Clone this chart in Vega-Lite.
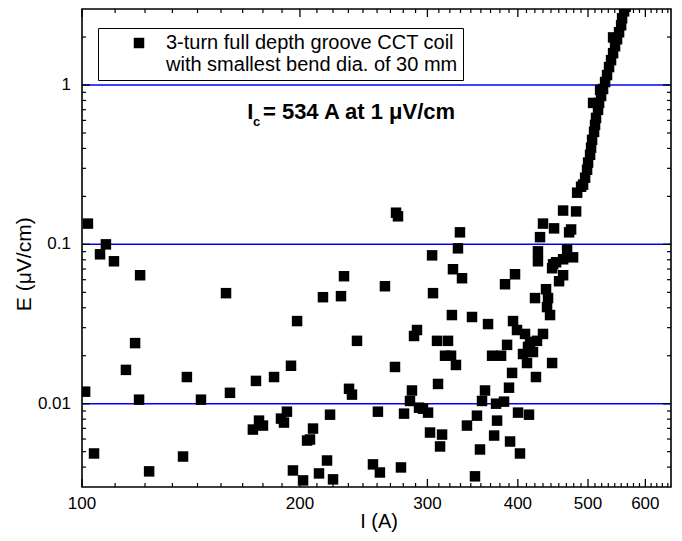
{
  "$schema": "https://vega.github.io/schema/vega-lite/v6.json",
  "width": 589,
  "height": 478,
  "autosize": "none",
  "padding": {"left": 82, "top": 9, "right": 11, "bottom": 54},
  "background": "white",
  "config": {
    "view": {"stroke": "black", "strokeWidth": 1.6}
  },
  "datasets": {
    "lines": [{"E": 0.01}, {"E": 0.1}, {"E": 1}],
    "xmaj": [{"v": 100}, {"v": 200}, {"v": 300}, {"v": 400}, {"v": 500}, {"v": 600}],
    "xmin": [{"v": 111.1}, {"v": 122.2}, {"v": 133.3}, {"v": 144.4}, {"v": 155.6}, {"v": 166.7}, {"v": 177.8}, {"v": 188.9},
             {"v": 211.1}, {"v": 222.2}, {"v": 233.3}, {"v": 244.4}, {"v": 255.6}, {"v": 266.7}, {"v": 277.8}, {"v": 288.9},
             {"v": 311.1}, {"v": 322.2}, {"v": 333.3}, {"v": 344.4}, {"v": 355.6}, {"v": 366.7}, {"v": 377.8}, {"v": 388.9},
             {"v": 411.1}, {"v": 422.2}, {"v": 433.3}, {"v": 444.4}, {"v": 455.6}, {"v": 466.7}, {"v": 477.8}, {"v": 488.9},
             {"v": 511.1}, {"v": 522.2}, {"v": 533.3}, {"v": 544.4}, {"v": 555.6}, {"v": 566.7}, {"v": 577.8}, {"v": 588.9},
             {"v": 611.1}, {"v": 622.2}, {"v": 633.3}, {"v": 644.4}],
    "ymaj": [{"v": 0.01}, {"v": 0.1}, {"v": 1}],
    "ymin": [{"v": 0.004}, {"v": 0.005}, {"v": 0.006}, {"v": 0.007}, {"v": 0.008}, {"v": 0.009},
             {"v": 0.02}, {"v": 0.03}, {"v": 0.04}, {"v": 0.05}, {"v": 0.06}, {"v": 0.07}, {"v": 0.08}, {"v": 0.09},
             {"v": 0.2}, {"v": 0.3}, {"v": 0.4}, {"v": 0.5}, {"v": 0.6}, {"v": 0.7}, {"v": 0.8}, {"v": 0.9}, {"v": 2}],
    "pts": [
      {"I":101.9,"E":0.135},{"I":107.9,"E":0.1},{"I":105.9,"E":0.0866},{"I":110.7,"E":0.0783},{"I":120.3,"E":0.064},
      {"I":158.1,"E":0.0494},{"I":118.4,"E":0.024},{"I":115.0,"E":0.0163},{"I":101.0,"E":0.0119},{"I":119.9,"E":0.0106},
      {"I":139.6,"E":0.0147},{"I":146.0,"E":0.0106},{"I":160.1,"E":0.0117},{"I":173.9,"E":0.0139},{"I":184.2,"E":0.0147},
      {"I":103.9,"E":0.00487},{"I":123.8,"E":0.00376},{"I":137.9,"E":0.00466},{"I":172.2,"E":0.00688},{"I":175.6,"E":0.00783},
      {"I":177.8,"E":0.00729},{"I":188.3,"E":0.00806},{"I":190.1,"E":0.00761},{"I":191.9,"E":0.00891},{"I":194.4,"E":0.0173},
      {"I":198.2,"E":0.033},{"I":215.2,"E":0.0466},{"I":227.9,"E":0.0473},{"I":220.1,"E":0.00853},{"I":204.6,"E":0.00587},
      {"I":206.5,"E":0.00596},{"I":208.5,"E":0.00698},{"I":195.6,"E":0.00381},{"I":202.0,"E":0.0033},{"I":212.5,"E":0.00365},
      {"I":218.0,"E":0.0044},{"I":222.2,"E":0.00335},
      {"I":271.5,"E":0.158},{"I":273.2,"E":0.15},{"I":332.7,"E":0.119},{"I":330.6,"E":0.0944},{"I":304.5,"E":0.0853},
      {"I":325.4,"E":0.0698},{"I":334.9,"E":0.0613},{"I":230.1,"E":0.0631},{"I":262.1,"E":0.0546},{"I":305.4,"E":0.0494},
      {"I":324.3,"E":0.036},{"I":345.7,"E":0.035},{"I":290.2,"E":0.029},{"I":287.5,"E":0.0266},{"I":239.8,"E":0.0248},
      {"I":309.3,"E":0.0248},{"I":320.3,"E":0.0248},{"I":317.3,"E":0.02},{"I":323.4,"E":0.02},{"I":328.5,"E":0.0175},
      {"I":270.6,"E":0.017},{"I":310.3,"E":0.0133},{"I":233.8,"E":0.0124},{"I":236.0,"E":0.0114},{"I":285.6,"E":0.0121},
      {"I":283.8,"E":0.0104},{"I":292.1,"E":0.00944},{"I":295.8,"E":0.0093},{"I":300.6,"E":0.00879},{"I":256.3,"E":0.00891},
      {"I":278.5,"E":0.00866},{"I":302.5,"E":0.00659},{"I":314.3,"E":0.0064},{"I":312.3,"E":0.00539},{"I":340.2,"E":0.00729},
      {"I":252.3,"E":0.00416},{"I":257.9,"E":0.0037},{"I":275.8,"E":0.00398},{"I":349.0,"E":0.0035},{"I":354.6,"E":0.00516},
      {"I":351.2,"E":0.00841},{"I":356.9,"E":0.0104},{"I":360.3,"E":0.0121},{"I":373.2,"E":0.01},{"I":382.8,"E":0.0103},
      {"I":388.9,"E":0.0126},{"I":392.7,"E":0.0156},{"I":423.7,"E":0.0147},{"I":400.2,"E":0.00879},{"I":414.4,"E":0.00853},
      {"I":374.4,"E":0.00783},{"I":370.9,"E":0.00631},{"I":390.2,"E":0.00579},{"I":402.7,"E":0.00487},{"I":368.5,"E":0.02},
      {"I":379.2,"E":0.02},{"I":386.5,"E":0.0234},{"I":406.6,"E":0.0205},{"I":419.7,"E":0.0211},{"I":411.8,"E":0.018},
      {"I":446.0,"E":0.018},{"I":363.8,"E":0.0316},{"I":393.9,"E":0.033},{"I":398.9,"E":0.029},{"I":409.2,"E":0.0274},
      {"I":433.3,"E":0.0274},{"I":425.1,"E":0.0248},{"I":415.8,"E":0.0244},{"I":413.1,"E":0.0227},{"I":384.0,"E":0.0562},
      {"I":396.4,"E":0.0649},{"I":422.4,"E":0.046},{"I":437.5,"E":0.0523},{"I":440.3,"E":0.046},{"I":438.9,"E":0.0404},
      {"I":443.1,"E":0.036},{"I":426.4,"E":0.0783},{"I":446.0,"E":0.0708},{"I":451.7,"E":0.0772},{"I":461.9,"E":0.064},
      {"I":456.0,"E":0.0587},{"I":461.9,"E":0.0806},{"I":447.4,"E":0.075},{"I":467.8,"E":0.093},{"I":476.8,"E":0.0829},
      {"I":426.4,"E":0.0904},{"I":429.2,"E":0.111},{"I":433.3,"E":0.135},{"I":448.8,"E":0.126},{"I":470.8,"E":0.119},
      {"I":473.8,"E":0.124},{"I":461.9,"E":0.163},{"I":481.4,"E":0.161},{"I":483.0,"E":0.211},{"I":489.1,"E":0.23},
      {"I":492.2,"E":0.237},{"I":495.4,"E":0.262},{"I":498.5,"E":0.294},{"I":500.1,"E":0.326},{"I":503.3,"E":0.365},
      {"I":504.9,"E":0.404},{"I":506.5,"E":0.453},{"I":509.7,"E":0.508},{"I":511.3,"E":0.562},{"I":512.9,"E":0.622},
      {"I":516.2,"E":0.698},{"I":517.9,"E":0.772},{"I":521.2,"E":0.854},{"I":524.5,"E":0.944},{"I":527.9,"E":1.044},
      {"I":531.2,"E":1.155},{"I":534.6,"E":1.296},{"I":538.0,"E":1.433},{"I":541.5,"E":1.585},{"I":544.9,"E":1.753},
      {"I":548.4,"E":1.939},{"I":551.9,"E":2.144},{"I":555.5,"E":2.371},{"I":557.2,"E":2.623},{"I":560.8,"E":2.901},
      {"I":563.5,"E":3.1},{"I":508.1,"E":0.772},{"I":519.6,"E":0.931},{"I":541.5,"E":1.99}
    ]
  },
  "layer": [
    {
      "data": {"name": "lines"},
      "mark": {"type": "rule", "color": "#0000ff", "strokeWidth": 1.5},
      "encoding": {
        "y": {"field": "E", "type": "quantitative", "scale": {"type": "log", "domain": [0.003, 3], "nice": false}, "axis": null}
      }
    },
    {
      "data": {"name": "xmaj"},
      "mark": {"type": "rule", "color": "black", "strokeWidth": 1.3},
      "encoding": {
        "x": {"field": "v", "type": "quantitative", "scale": {"type": "log", "domain": [100, 651], "nice": false}, "axis": null},
        "y": {"datum": 0.003, "type": "quantitative", "scale": {"type": "log", "domain": [0.003, 3], "nice": false}, "axis": null},
        "y2": {"datum": 0.00337}
      }
    },
    {
      "data": {"name": "xmaj"},
      "mark": {"type": "rule", "color": "black", "strokeWidth": 1.3},
      "encoding": {
        "x": {"field": "v", "type": "quantitative", "scale": {"type": "log", "domain": [100, 651], "nice": false}, "axis": null},
        "y": {"datum": 3, "type": "quantitative", "scale": {"type": "log", "domain": [0.003, 3], "nice": false}, "axis": null},
        "y2": {"datum": 2.674}
      }
    },
    {
      "data": {"name": "xmin"},
      "mark": {"type": "rule", "color": "black", "strokeWidth": 1.2},
      "encoding": {
        "x": {"field": "v", "type": "quantitative", "scale": {"type": "log", "domain": [100, 651], "nice": false}, "axis": null},
        "y": {"datum": 0.003, "type": "quantitative", "scale": {"type": "log", "domain": [0.003, 3], "nice": false}, "axis": null},
        "y2": {"datum": 0.00318}
      }
    },
    {
      "data": {"name": "xmin"},
      "mark": {"type": "rule", "color": "black", "strokeWidth": 1.2},
      "encoding": {
        "x": {"field": "v", "type": "quantitative", "scale": {"type": "log", "domain": [100, 651], "nice": false}, "axis": null},
        "y": {"datum": 3, "type": "quantitative", "scale": {"type": "log", "domain": [0.003, 3], "nice": false}, "axis": null},
        "y2": {"datum": 2.832}
      }
    },
    {
      "data": {"name": "ymaj"},
      "mark": {"type": "rule", "color": "black", "strokeWidth": 1.3},
      "encoding": {
        "y": {"field": "v", "type": "quantitative", "scale": {"type": "log", "domain": [0.003, 3], "nice": false}, "axis": null},
        "x": {"datum": 100, "type": "quantitative", "scale": {"type": "log", "domain": [100, 651], "nice": false}, "axis": null},
        "x2": {"datum": 102.58}
      }
    },
    {
      "data": {"name": "ymaj"},
      "mark": {"type": "rule", "color": "black", "strokeWidth": 1.3},
      "encoding": {
        "y": {"field": "v", "type": "quantitative", "scale": {"type": "log", "domain": [0.003, 3], "nice": false}, "axis": null},
        "x": {"datum": 651, "type": "quantitative", "scale": {"type": "log", "domain": [100, 651], "nice": false}, "axis": null},
        "x2": {"datum": 634.6}
      }
    },
    {
      "data": {"name": "ymin"},
      "mark": {"type": "rule", "color": "black", "strokeWidth": 1.2},
      "encoding": {
        "y": {"field": "v", "type": "quantitative", "scale": {"type": "log", "domain": [0.003, 3], "nice": false}, "axis": null},
        "x": {"datum": 100, "type": "quantitative", "scale": {"type": "log", "domain": [100, 651], "nice": false}, "axis": null},
        "x2": {"datum": 101.28}
      }
    },
    {
      "data": {"name": "ymin"},
      "mark": {"type": "rule", "color": "black", "strokeWidth": 1.2},
      "encoding": {
        "y": {"field": "v", "type": "quantitative", "scale": {"type": "log", "domain": [0.003, 3], "nice": false}, "axis": null},
        "x": {"datum": 651, "type": "quantitative", "scale": {"type": "log", "domain": [100, 651], "nice": false}, "axis": null},
        "x2": {"datum": 642.8}
      }
    },
    {
      "data": {"name": "xmaj"},
      "mark": {"type": "text", "font": "Liberation Sans", "fontSize": 17, "align": "center", "baseline": "middle", "color": "black"},
      "encoding": {
        "text": {"field": "v", "type": "quantitative", "format": "d"},
        "x": {"field": "v", "type": "quantitative", "scale": {"type": "log", "domain": [100, 651], "nice": false}, "axis": null},
        "y": {"datum": 0.00234, "type": "quantitative", "scale": {"type": "log", "domain": [0.003, 3], "nice": false}, "axis": null}
      }
    },
    {
      "data": {"name": "ymaj"},
      "mark": {"type": "text", "font": "Liberation Sans", "fontSize": 17, "align": "right", "baseline": "middle", "color": "black"},
      "encoding": {
        "text": {"field": "v", "type": "quantitative", "format": "~g"},
        "y": {"field": "v", "type": "quantitative", "scale": {"type": "log", "domain": [0.003, 3], "nice": false}, "axis": null},
        "x": {"datum": 96.56, "type": "quantitative", "scale": {"type": "log", "domain": [100, 651], "nice": false}, "axis": null}
      }
    },
    {
      "data": {"values": [{"t": "I (A)"}]},
      "mark": {"type": "text", "font": "Liberation Sans", "fontSize": 20, "align": "center", "baseline": "middle", "color": "black"},
      "encoding": {
        "text": {"field": "t"},
        "x": {"datum": 257.2, "type": "quantitative", "scale": {"type": "log", "domain": [100, 651], "nice": false}, "axis": null},
        "y": {"datum": 0.0018, "type": "quantitative", "scale": {"type": "log", "domain": [0.003, 3], "nice": false}, "axis": null}
      }
    },
    {
      "data": {"values": [{"t": "E (μV/cm)"}]},
      "mark": {"type": "text", "font": "Liberation Sans", "fontSize": 21, "align": "center", "baseline": "middle", "angle": 270, "color": "black"},
      "encoding": {
        "text": {"field": "t"},
        "x": {"datum": 83.4, "type": "quantitative", "scale": {"type": "log", "domain": [100, 651], "nice": false}, "axis": null},
        "y": {"datum": 0.075, "type": "quantitative", "scale": {"type": "log", "domain": [0.003, 3], "nice": false}, "axis": null}
      }
    },
    {
      "data": {"name": "pts"},
      "mark": {"type": "point", "shape": "square", "filled": true, "color": "black", "opacity": 1, "size": 110, "clip": true},
      "encoding": {
        "x": {"field": "I", "type": "quantitative", "scale": {"type": "log", "domain": [100, 651], "nice": false}, "axis": null},
        "y": {"field": "E", "type": "quantitative", "scale": {"type": "log", "domain": [0.003, 3], "nice": false}, "axis": null},
        "shape": {"datum": "CCT", "type": "nominal", "scale": {"range": ["square"]},
          "legend": {"orient": "none", "legendX": 16, "legendY": 19, "title": null, "strokeColor": "black", "fillColor": "white", "padding": 5, "symbolType": "square", "symbolSize": 110, "symbolFillColor": "black", "symbolStrokeColor": "black", "symbolStrokeWidth": 0, "symbolOffset": 26, "labelOffset": 17, "labelFont": "Liberation Sans", "labelFontSize": 20, "labelColor": "black", "labelLimit": 0, "labelBaseline": "middle",
            "labelExpr": "['3-turn full depth groove CCT coil', 'with smallest bend dia. of 30 mm']"}}
      }
    },
    {
      "data": {"values": [{"t": "I"}]},
      "mark": {"type": "text", "font": "Liberation Sans", "fontSize": 22, "fontWeight": "bold", "align": "left", "baseline": "alphabetic", "color": "black"},
      "encoding": {
        "text": {"field": "t"},
        "x": {"datum": 169.1, "type": "quantitative", "scale": {"type": "log", "domain": [100, 651], "nice": false}, "axis": null},
        "y": {"datum": 0.609, "type": "quantitative", "scale": {"type": "log", "domain": [0.003, 3], "nice": false}, "axis": null}
      }
    },
    {
      "data": {"values": [{"t": "c"}]},
      "mark": {"type": "text", "font": "Liberation Sans", "fontSize": 13, "fontWeight": "bold", "align": "left", "baseline": "alphabetic", "color": "black"},
      "encoding": {
        "text": {"field": "t"},
        "x": {"datum": 172.2, "type": "quantitative", "scale": {"type": "log", "domain": [100, 651], "nice": false}, "axis": null},
        "y": {"datum": 0.554, "type": "quantitative", "scale": {"type": "log", "domain": [0.003, 3], "nice": false}, "axis": null}
      }
    },
    {
      "data": {"values": [{"t": "= 534 A at 1 μV/cm"}]},
      "mark": {"type": "text", "font": "Liberation Sans", "fontSize": 22, "fontWeight": "bold", "align": "left", "baseline": "alphabetic", "color": "black"},
      "encoding": {
        "text": {"field": "t"},
        "x": {"datum": 177.8, "type": "quantitative", "scale": {"type": "log", "domain": [100, 651], "nice": false}, "axis": null},
        "y": {"datum": 0.609, "type": "quantitative", "scale": {"type": "log", "domain": [0.003, 3], "nice": false}, "axis": null}
      }
    }
  ]
}
